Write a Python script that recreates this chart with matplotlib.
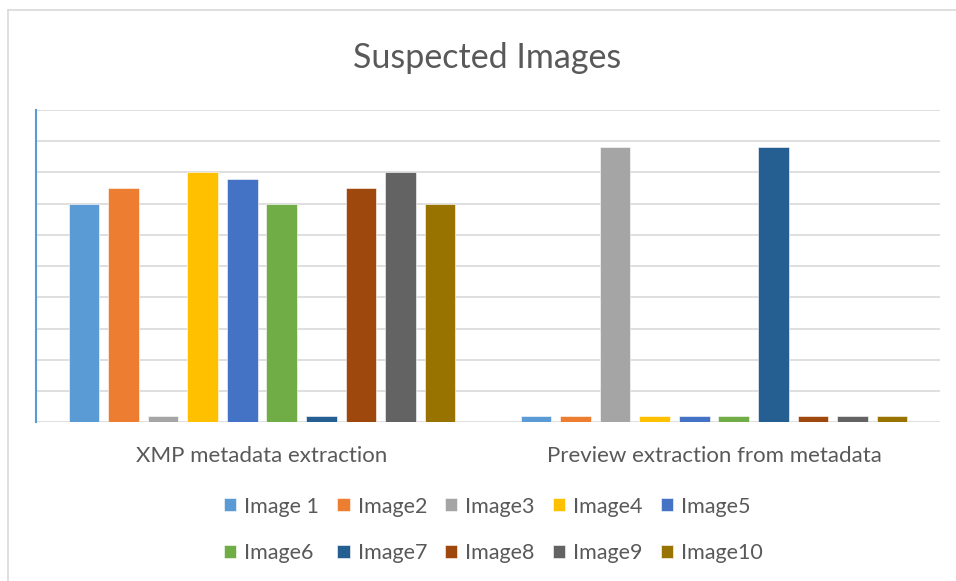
import matplotlib
matplotlib.use("Agg")
import matplotlib.pyplot as plt
import numpy as np

# Data
categories = ["XMP metadata extraction", "Preview extraction from metadata"]
series_names = ["Image 1", "Image2", "Image3", "Image4", "Image5",
                "Image6", "Image7", "Image8", "Image9", "Image10"]
xmp_values = [7.0, 7.5, 0.2, 8.0, 7.8, 7.0, 0.2, 7.5, 8.0, 7.0]
preview_values = [0.2, 0.2, 8.8, 0.2, 0.2, 0.2, 8.8, 0.2, 0.2, 0.2]
colors = ["#5B9BD5", "#ED7D31", "#A5A5A5", "#FFC000", "#4472C4",
          "#70AD47", "#255E91", "#9E480E", "#636363", "#997300"]

plt.rcParams["font.family"] = ["Lato", "DejaVu Sans"]

fig = plt.figure(figsize=(9.56, 5.81), dpi=100)
ax = fig.add_axes([36 / 956, 1 - 422.3 / 581, 904 / 956, (422.3 - 110) / 581])

x = np.arange(len(categories))
pitch = 0.0874
width = 0.0675
handles = []
for i, name in enumerate(series_names):
    vals = [xmp_values[i], preview_values[i]]
    b = ax.bar(x + (i - 4.5) * pitch, vals, width, color=colors[i],
               label=name, zorder=3, edgecolor="white", linewidth=0.4)
    handles.append(b)

ax.set_xlim(-0.5, 1.5)
ax.set_ylim(0, 10)
ax.set_yticks(np.arange(0, 11, 1))
ax.set_yticklabels([])
ax.tick_params(axis="y", length=0)
ax.grid(axis="y", color="#D9D9D9", linewidth=1.2, zorder=0)
ax.set_xticks(x)
ax.set_xticklabels(categories, fontsize=16, color="#595959")
ax.tick_params(axis="x", length=0, pad=17)
for s in ["top", "right", "bottom"]:
    ax.spines[s].set_visible(False)
ax.spines["left"].set_color("#5B9BD5")
ax.spines["left"].set_linewidth(1.5)

fig.text(487 / 956, 1 - 58 / 581, "Suspected Images", ha="center", va="center",
         fontsize=24.5, color="#595959")

# Legend filled row by row (matplotlib fills column-wise)
ncol = 5
order = [r * ncol + c for c in range(ncol) for r in range(2)]
fig.legend(handles=[handles[k] for k in order],
           labels=[series_names[k] for k in order], ncol=ncol,
           loc="center", bbox_to_anchor=(493.5 / 956, 1 - 530 / 581),
           frameon=False, fontsize=15.5, labelcolor="#595959",
           handlelength=0.56, handleheight=0.56, handletextpad=0.37,
           columnspacing=0.85, labelspacing=1.25)

# Chart frame: light left and top borders
fig.add_artist(plt.Line2D([8 / 956, 8 / 956], [0, 1 - 10 / 581],
                          transform=fig.transFigure, color="#D9D9D9", lw=1.2))
fig.add_artist(plt.Line2D([8 / 956, 1], [1 - 10 / 581, 1 - 10 / 581],
                          transform=fig.transFigure, color="#D9D9D9", lw=1.2))

fig.savefig("out.png", dpi=100, facecolor="white")
